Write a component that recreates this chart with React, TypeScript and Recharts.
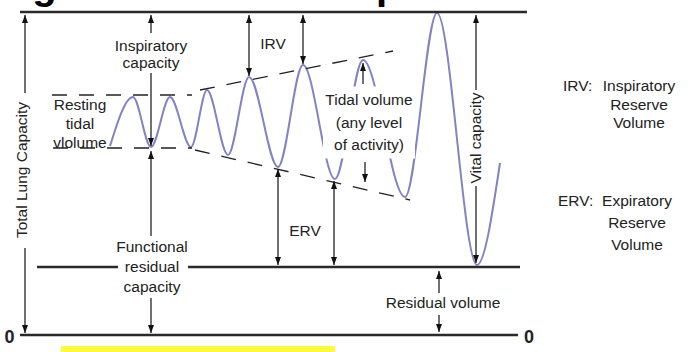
import { LineChart, Line, XAxis, YAxis, ReferenceLine, ReferenceDot, ReferenceArea } from 'recharts'

// spirogram trace: time (x) against lung volume (0 = empty lungs)
const breathTime = [110, 133, 151, 170, 191, 207, 228, 249, 278, 303, 335, 363, 405, 437, 477, 500]
const breathVolume = [189, 238, 188, 238, 188, 245, 180, 258, 168, 270, 156, 275, 138, 322, 70, 172]

// volume levels
const TOTAL_CAPACITY = 323
const FUNCTIONAL_RESIDUAL = 68
const EMPTY = 0
const RESTING_TOP = 240
const RESTING_BOTTOM = 187

// dashed envelope of the growing breaths: [t, volume]
const upperTrend = [[200, 245], [393, 284]]
const lowerTrend = [[195, 185], [410, 135]]

// measurement arrows: t, from volume, to volume, heads
const arrows: { t: number; from: number; to: number; heads: 'end' | 'both' }[] = [
  { t: 25, from: 242, to: 320, heads: 'end' },
  { t: 25, from: 87, to: 2, heads: 'end' },
  { t: 151, from: 302, to: 320, heads: 'end' },
  { t: 151, from: 262, to: 189, heads: 'end' },
  { t: 151, from: 99, to: 184, heads: 'end' },
  { t: 151, from: 37, to: 2, heads: 'end' },
  { t: 249, from: 320, to: 259, heads: 'both' },
  { t: 303, from: 320, to: 271, heads: 'both' },
  { t: 278, from: 166, to: 70, heads: 'both' },
  { t: 334, from: 154, to: 70, heads: 'both' },
  { t: 363, from: 251, to: 272, heads: 'end' },
  { t: 365, from: 173, to: 153, heads: 'end' },
  { t: 476, from: 245, to: 320, heads: 'end' },
  { t: 476, from: 149, to: 72, heads: 'end' },
  { t: 439, from: 42, to: 64, heads: 'end' },
  { t: 439, from: 20, to: 3, heads: 'end' },
]

const breath = breathTime.map((t, i) => ({ t, v: breathVolume[i] }))

const FONT = '"Liberation Sans", Arial, sans-serif'

function ArrowShape(props: any) {
  const { x1, y1, x2, y2, heads } = props
  const dx = x2 - x1
  const dy = y2 - y1
  const len = Math.hypot(dx, dy) || 1
  const ux = dx / len
  const uy = dy / len
  const head = (x: number, y: number, ax: number, ay: number) => {
    const L = 8
    const W = 3
    const bx = x - ax * L
    const by = y - ay * L
    return (
      <polygon
        points={`${x},${y} ${bx - ay * W},${by + ax * W} ${bx + ay * W},${by - ax * W}`}
        fill="#111"
      />
    )
  }
  return (
    <g>
      <line x1={x1} y1={y1} x2={x2} y2={y2} stroke="#111" strokeWidth={1.2} />
      {heads === 'both' && head(x1, y1, -ux, -uy)}
      {head(x2, y2, ux, uy)}
    </g>
  )
}

function TextBlock(props: any) {
  const { cx, cy, lines, lh = 19, angle = 0, anchor = 'middle', size = 15.5, bold = false, box } = props
  const n = lines.length
  return (
    <g transform={angle ? `rotate(${angle} ${cx} ${cy})` : undefined}>
      {box && <rect x={cx - box[0] / 2} y={cy - box[1] / 2} width={box[0]} height={box[1]} fill="#fff" />}
      <text
        textAnchor={anchor}
        fontFamily={FONT}
        fontSize={size}
        fontWeight={bold ? 'bold' : 'normal'}
        fill="#222"
      >
        {lines.map((s: string, i: number) => (
          <tspan key={i} x={cx} y={cy + (i - (n - 1) / 2) * lh + size * 0.35}>
            {s}
          </tspan>
        ))}
      </text>
    </g>
  )
}

function Note({ t, v, ...rest }: any) {
  return (
    <ReferenceDot
      x={t}
      y={v}
      r={0}
      zIndex={600}
      ifOverflow="visible"
      shape={(p: any) => <TextBlock cx={p.cx} cy={p.cy} {...rest} />}
    />
  )
}

const heavy = { stroke: '#2a2a2a', strokeWidth: 2.6, zIndex: 500, ifOverflow: 'visible' as const }
const dashed = { stroke: '#222', strokeWidth: 1.3, strokeDasharray: '15 12', zIndex: 500 }

export default function App() {
  return (
    <div style={{ position: 'absolute', left: 0, top: 0, width: 696, height: 352, background: '#fff' }}>
      <LineChart width={696} height={352} data={breath} margin={{ top: 0, right: 0, bottom: 0, left: 0 }}>
        <XAxis dataKey="t" type="number" domain={[0, 696]} hide allowDataOverflow />
        <YAxis type="number" domain={[-17, 335]} hide allowDataOverflow />

        <text x={-41} y={-1} fontFamily={FONT} fontWeight="bold" fontSize={40} fill="#000">
          Lung Volumes and Capacities
        </text>

        <ReferenceArea x1={61} x2={335} y1={-17} y2={-11} fill="#fbfb3a" fillOpacity={1} stroke="none" />

        <Line
          type="monotone"
          dataKey="v"
          stroke="#8383c4"
          strokeWidth={2}
          dot={false}
          activeDot={false}
          isAnimationActive={false}
        />

        <ReferenceLine segment={[{ x: 20, y: TOTAL_CAPACITY }, { x: 527, y: TOTAL_CAPACITY }]} {...heavy} />
        <ReferenceLine segment={[{ x: 37, y: FUNCTIONAL_RESIDUAL }, { x: 118, y: FUNCTIONAL_RESIDUAL }]} {...heavy} />
        <ReferenceLine segment={[{ x: 188, y: FUNCTIONAL_RESIDUAL }, { x: 520, y: FUNCTIONAL_RESIDUAL }]} {...heavy} />
        <ReferenceLine segment={[{ x: 20, y: EMPTY }, { x: 518, y: EMPTY }]} {...heavy} />

        <ReferenceLine segment={[{ x: 52, y: RESTING_TOP }, { x: 192, y: RESTING_TOP }]} {...dashed} />
        <ReferenceLine segment={[{ x: 53, y: RESTING_BOTTOM }, { x: 192, y: RESTING_BOTTOM }]} {...dashed} />
        <ReferenceLine
          segment={[{ x: upperTrend[0][0], y: upperTrend[0][1] }, { x: upperTrend[1][0], y: upperTrend[1][1] }]}
          {...dashed}
        />
        <ReferenceLine
          segment={[{ x: lowerTrend[0][0], y: lowerTrend[0][1] }, { x: lowerTrend[1][0], y: lowerTrend[1][1] }]}
          {...dashed}
        />

        <Note t={369} v={212.5} lines={['Tidal volume', '(any level', 'of activity)']} lh={22.5} box={[92, 72]} />

        {arrows.map((a, i) => (
          <ReferenceLine
            key={i}
            segment={[{ x: a.t, y: a.from }, { x: a.t, y: a.to }]}
            zIndex={700}
            shape={(p: any) => <ArrowShape {...p} heads={a.heads} />}
          />
        ))}

        <Note t={151} v={280.5} lines={['Inspiratory', 'capacity']} lh={17} />
        <Note t={273} v={291} lines={['IRV']} />
        <Note t={80} v={211} lines={['Resting', 'tidal', 'vlolume']} lh={19} />
        <Note t={305} v={104} lines={['ERV']} />
        <Note t={476} v={197} lines={['Vital capacity']} angle={-90} />
        <Note t={22} v={165} lines={['Total Lung Capacity']} angle={-90} />
        <Note t={152} v={68} lines={['Functional', 'residual', 'capacity']} lh={20} />
        <Note t={443} v={32} lines={['Residual volume']} />

        <Note t={563} v={249} lines={['IRV:']} anchor="start" />
        <Note t={639} v={230.5} lines={['Inspiratory', 'Reserve', 'Volume']} lh={18.5} />
        <Note t={558} v={134} lines={['ERV:']} anchor="start" />
        <Note t={637} v={112} lines={['Expiratory', 'Reserve', 'Volume']} lh={22} />

        <Note t={9.5} v={-2} lines={['0']} size={18} bold />
        <Note t={529} v={-2} lines={['0']} size={18} bold />
      </LineChart>
    </div>
  )
}
